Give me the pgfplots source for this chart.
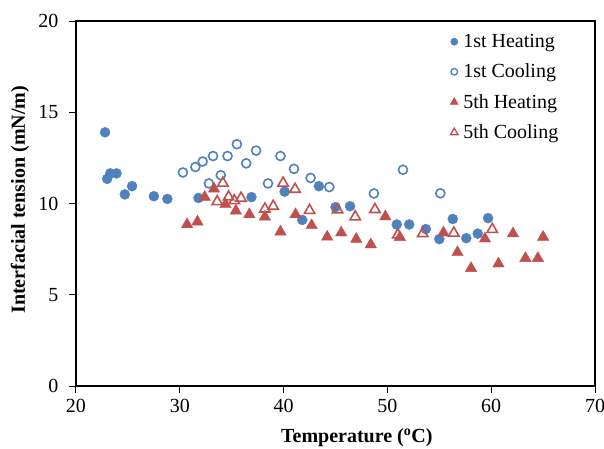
\documentclass[border=0pt]{standalone}
\usepackage{fontspec}
\setmainfont{Liberation Serif}
\usepackage{pgfplots}
\pgfplotsset{compat=1.18}
\definecolor{xblue}{RGB}{79,129,189}
\definecolor{xred}{RGB}{192,80,77}
\begin{document}
\begin{tikzpicture}
\begin{axis}[name=ax, scale only axis, width=519pt, height=365pt,
  xmin=20, xmax=70, ymin=0, ymax=20,
  xtick={20,30,...,70}, ytick={0,5,...,20},
  tick align=outside, xtick pos=left, ytick pos=left,
  major tick length=7pt,
  axis line style={line width=1.1pt},
  every tick/.style={line width=1pt, black},
  font=\fontsize{20}{24}\selectfont,
  /pgf/number format/assume math mode=true,
  xticklabel style={yshift=-3pt},
  yticklabel style={xshift=-7pt},
  xlabel={\textbf{Temperature (\textsuperscript{o}C)}},
  ylabel={\textbf{Interfacial tension (mN/m)}},
  xlabel style={at={(axis description cs:0.541,-0.1425)}, anchor=center},
  ylabel style={at={(axis description cs:-0.108,0.51)}, anchor=center},
  legend style={at={(0.945,0.975)}, anchor=north east, draw=none, fill=none,
    font=\fontsize{20}{24}\selectfont, row sep=11pt, legend cell align=left,
    nodes={inner xsep=5pt}},
  clip=false
]
\addplot[only marks, mark=*, mark size=5pt, color=xblue, legend image post style={mark size=3.6pt}] coordinates {
(22.8,13.9) (23.0,11.35) (23.3,11.65) (23.9,11.65) (24.7,10.5) (25.4,10.95)
(27.5,10.4) (28.8,10.25) (31.8,10.3) (36.9,10.35) (40.1,10.65) (41.8,9.1)
(43.4,10.95) (45.0,9.8) (46.4,9.85) (50.9,8.85) (52.1,8.85) (53.7,8.6)
(55.0,8.05) (56.3,9.15) (57.6,8.1) (58.7,8.35) (59.7,9.2)};
\addlegendentry{1st Heating}
\addplot[only marks, mark=o, mark size=4.5pt, line width=1.6pt, color=xblue, legend image post style={mark size=3.3pt, line width=1.3pt}] coordinates {
(30.3,11.7) (31.5,12.0) (32.2,12.3) (32.8,11.1) (33.2,12.6) (33.95,11.55)
(34.6,12.6) (35.5,13.25) (36.4,12.2) (37.35,12.9) (38.5,11.1) (39.7,12.6)
(41.0,11.9) (42.6,11.4) (44.4,10.9) (48.7,10.55) (51.5,11.85) (55.1,10.56)};
\addlegendentry{1st Cooling}
\addplot[only marks, mark=triangle*, mark size=6.6pt, color=xred, legend image post style={mark size=4.6pt}] coordinates {
(30.7,8.85) (31.7,9.0) (32.4,10.35) (33.3,10.8) (34.4,9.95) (35.4,9.6)
(36.7,9.4) (38.2,9.27) (39.7,8.45) (41.15,9.4) (42.7,8.8) (44.2,8.17)
(45.55,8.4) (47.0,8.05) (48.4,7.75) (49.8,9.28) (51.2,8.15) (55.4,8.4)
(56.75,7.32) (58.06,6.45) (59.4,8.07) (60.7,6.7) (62.1,8.35) (63.3,7.0)
(64.5,7.0) (65.0,8.16)};
\addlegendentry{5th Heating}
\addplot[only marks, mark=triangle, mark size=6pt, line width=1.6pt, color=xred, legend image post style={mark size=4.3pt, line width=1.3pt}] coordinates {
(33.6,10.1) (34.15,11.12) (34.7,10.36) (35.25,10.16) (35.9,10.29) (38.2,9.7)
(39.0,9.85) (39.95,11.12) (41.1,10.78) (42.5,9.62) (45.2,9.65) (46.9,9.27)
(48.8,9.67) (51.0,8.28) (53.4,8.35) (56.4,8.38) (60.1,8.58)};
\addlegendentry{5th Cooling}
\end{axis}
\pgfresetboundingbox
\path ([shift={(-76pt,-62pt)}]ax.south west) rectangle ([shift={(9pt,21pt)}]ax.north east);
\end{tikzpicture}
\end{document}
